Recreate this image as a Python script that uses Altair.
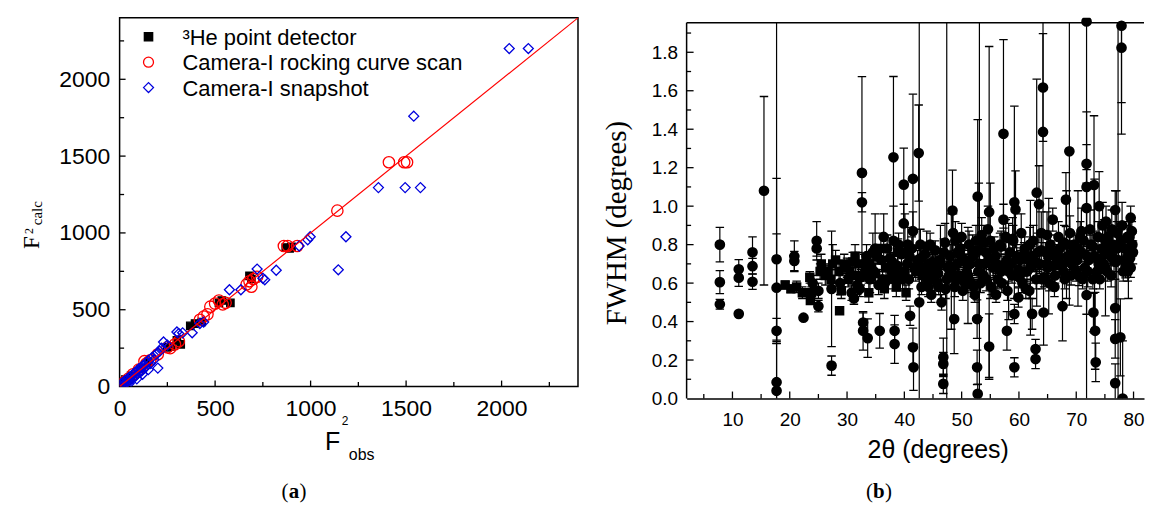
import altair as alt
import pandas as pd

SANS = "Liberation Sans"
SERIF = "Liberation Serif"

# ---------------- panel (a) data ----------------
SERIES = ["\u00b3He point detector", "Camera-I rocking curve scan", "Camera-I snapshot"]
SERIES_SHAPE = ["square", "circle", "diamond"]
SERIES_STROKE = ["#000000", "#ff0000", "#0000dd"]
SERIES_FILL = ["#000000", "transparent", "transparent"]
SERIES_SIZE = [55, 130, 100]

HE_X = [15, 30, 60, 110, 150, 250, 270, 300, 320, 370, 395, 430, 520, 535, 580, 680, 690, 870, 890, 900]
HE_Y = [30, 45, 70, 115, 160, 255, 262, 300, 275, 395, 410, 420, 545, 560, 545, 720, 700, 905, 900, 910]

RC_X = [10, 25, 45, 70, 100, 130, 140, 160, 200, 250, 265, 290, 310, 420, 440, 460, 475, 500, 520, 540,
        555, 665, 680, 700, 720, 690, 860, 880, 930, 1140, 1410, 1490, 1505]
RC_Y = [15, 30, 50, 80, 110, 165, 150, 170, 210, 255, 250, 275, 295, 435, 455, 470, 520, 540, 560, 535,
        545, 665, 685, 700, 715, 650, 915, 915, 915, 1145, 1460, 1460, 1460]

SN_X = [5, 10, 15, 20, 25, 30, 35, 40, 45, 50,
        50, 55, 60, 65, 70, 75, 80, 85, 90, 90,
        95, 100, 105, 110, 115, 120, 120, 125, 130, 135,
        140, 150, 150, 160, 170, 180, 190, 200, 200, 210,
        220, 230, 250, 300, 310, 330, 380, 420, 440, 575,
        635, 720, 750, 760, 820, 940, 985, 998, 1145, 1185,
        1355, 1495, 1575, 1540, 2040, 2140]
SN_Y = [5, 20, 8, 30, 15, 40, 25, 50, 35, 60,
        20, 40, 65, 50, 80, 60, 90, 70, 100, 50,
        85, 115, 95, 120, 100, 135, 80, 115, 140, 125,
        155, 170, 110, 150, 190, 175, 210, 120, 220, 230,
        250, 290, 270, 355, 345, 350, 350, 410, 420, 630,
        630, 765, 705, 695, 757, 915, 955, 975, 760, 975,
        1295, 1295, 1295, 1760, 2200, 2200]

FIT_X = [0, 2400]
FIT_Y = [0, 2400]

L_LABELS = [0, 500, 1000, 1500, 2000]
L_TICK_MAJOR = [500, 1000, 1500, 2000]
L_TICK_MINOR = [250, 750, 1250, 1750, 2250]

# ---------------- panel (b) data ----------------
TH_A = [7.8, 7.8, 7.8, 11.1, 11.1, 11.1, 13.5, 13.5, 13.5, 15.5,
        17.7, 17.7, 17.7, 17.7, 17.7, 19.2, 20.2, 20.8, 20.8, 21.2,
        22.4, 22.2, 23.5, 23.8, 23.6, 24.0, 24.7, 24.7, 25.0, 25.0,
        25.3, 25.5, 26.2, 26.5, 27.3, 27.3, 27.2, 27.5, 28.0, 28.7,
        28.6, 28.8, 29.0, 29.5]
FW_A = [0.80, 0.605, 0.49, 0.672, 0.628, 0.44, 0.76, 0.688, 0.607, 1.08,
        0.724, 0.576, 0.352, 0.085, 0.04, 0.59, 0.57, 0.74, 0.715, 0.58,
        0.42, 0.55, 0.63, 0.55, 0.51, 0.60, 0.78, 0.82, 0.56, 0.48,
        0.66, 0.70, 0.64, 0.66, 0.57, 0.171, 0.62, 0.70, 0.72, 0.456,
        0.66, 0.60, 0.56, 0.70]
ER_A = [0.09, 0.06, 0.025, 0.05, 0.045, 0, 0.08, 0.04, 0.04, 0.49,
        0.42, 0.28, 0.065, 0.2, 2.5, 0.02, 0.02, 0.08, 0.05, 0.03,
        0, 0.03, 0.03, 0.03, 0.02, 0.04, 0.04, 0.1, 0.04, 0.03,
        0.04, 0.05, 0.05, 0.04, 0.3, 0.05, 0.05, 0.1, 0.05, 0,
        0.05, 0.06, 0.04, 0.05]
MK_A = list("cccccccccc" "cccccssccs" "cssssccccc" "ssssccssss" "scss")

TH_B = [30.2, 30.5, 30.8, 31.0, 31.2, 31.5, 31.8, 32.0, 32.2, 32.6,
        32.6, 32.8, 32.8, 33.2, 33.4, 33.6, 33.8, 34.0, 34.5, 34.9,
        35.0, 35.5, 35.7, 36.0, 36.4, 36.8, 37.2, 37.5, 38.1, 38.1,
        38.3, 38.3, 38.6, 38.8, 39.2, 39.5, 39.9, 39.9, 40.3, 40.5,
        40.8, 41.0, 41.3, 41.5, 41.5, 41.5, 41.6, 42.0, 42.3, 42.5,
        42.6, 43.0, 43.3, 43.6, 44.0, 44.3, 44.7]
FW_B = [0.62, 0.66, 0.55, 0.71, 0.52, 0.64, 0.59, 0.70, 0.57, 1.173,
        1.02, 0.395, 0.352, 0.66, 0.74, 0.314, 0.55, 0.62, 0.76, 0.78,
        0.65, 0.59, 0.352, 0.72, 0.84, 0.68, 0.62, 0.73, 1.254, 0.82,
        0.352, 0.283, 0.58, 0.69, 0.64, 0.75, 1.112, 0.91, 0.55, 0.70,
        0.62, 0.43, 0.78, 1.142, 0.87, 0.266, 0.162, 0.66, 0.72, 1.276,
        0.50, 0.58, 0.68, 0.75, 0.62, 0.70, 0.54]
ER_B = [0.04, 0.05, 0.04, 0.05, 0.03, 0.05, 0.05, 0.06, 0.04, 0.5,
        0.05, 0.05, 0.1, 0.05, 0.06, 0.1, 0.05, 0.07, 0.1, 0.18,
        0.05, 0.05, 0.09, 0.06, 0.12, 0.05, 0.05, 0.07, 0.42, 0.18,
        0.08, 0.1, 0.05, 0.06, 0.04, 0.05, 0.19, 0.1, 0.04, 0.06,
        0.05, 0.05, 0.06, 0.44, 0.1, 0.1, 0.12, 0.05, 0.05, 0.25,
        2.5, 0.04, 0.05, 0.05, 0.04, 0.05, 0.04]
MK_B = list("sscscscscc" "ccccccsccc" "sccccscccc" "ccscscccsc" "cccccccscc" "ccscccc")

TH_C = [45.0, 45.4, 45.8, 46.2, 46.5, 46.8, 46.8, 46.8, 47.1, 47.4,
        47.6, 48.0, 48.4, 48.7, 48.8, 49.2, 49.5, 49.8, 50.2, 50.5,
        50.9, 51.3, 51.7, 52.0, 52.3, 52.7, 52.7, 52.8, 52.8, 53.1,
        53.5, 53.8, 54.2, 54.8, 54.8, 55.2, 55.5, 55.9, 56.3, 56.7,
        57.3, 57.3, 57.6, 57.9, 58.0, 58.4, 58.8, 59.2, 59.2, 59.4,
        59.2, 59.9, 60.2, 60.6, 61.0, 61.4, 61.8, 62.2, 62.3, 62.9,
        62.9, 63.1, 63.5, 63.6, 64.0, 64.2, 64.2, 64.3, 64.6, 65.0,
        65.5, 65.9, 66.3, 66.7, 67.1, 67.6, 67.8, 68.2, 68.5, 68.8,
        69.2, 69.6, 70.0, 70.5, 70.9, 71.3, 71.8, 71.8, 71.8, 71.8,
        71.8, 72.2, 72.6, 73.1, 73.0, 73.3, 73.4, 73.6, 74.0, 74.4,
        74.8, 75.2, 75.6, 76.0, 76.4, 76.8, 76.8, 76.8, 76.8, 77.1,
        77.3, 77.9, 77.9, 77.7, 78.1, 78.3, 78.6, 78.9, 79.2, 79.5,
        79.7, 79.8, 79.5]
FW_C = [0.66, 0.77, 0.60, 0.72, 0.50, 0.214, 0.18, 0.076, 0.81, 0.62,
        0.68, 0.74, 0.977, 0.413, 0.58, 0.70, 0.64, 0.78, 0.56, 0.72,
        0.66, 0.80, 0.60, 0.74, 0.54, 0.413, 0.162, 0.024, 1.05, 0.70,
        0.85, 0.64, 0.76, 0.97, 0.27, 0.58, 0.68, 0.74, 0.62, 0.80,
        1.376, 0.93, 0.70, 0.352, 0.56, 0.76, 0.64, 0.162, 1.02, 0.983,
        0.439, 0.525, 0.72, 0.60, 0.78, 0.66, 0.56, 0.74, 0.44, 0.257,
        0.205, 1.07, 1.01, 0.70, 0.62, 1.617, 1.386, 0.447, 0.76, 0.68,
        0.80, 0.93, 0.64, 0.72, 0.78, 0.48, 0.66, 1.034, 0.74, 1.285,
        0.70, 0.80, 0.66, 0.637, 0.76, 0.82, 1.22, 1.10, 0.99, 0.538,
        1.96, 0.72, 0.80, 1.11, 0.447, 0.352, 0.188, 0.66, 1.0, 0.78,
        0.70, 0.92, 0.84, 0.74, 0.80, 0.98, 0.47, 0.31, 0.08, 0.86,
        0.72, 1.938, 1.824, 0.318, 0.0, 0.78, 0.687, 0.84, 0.76, 0.94,
        0.87, 0.80, 0.68]
ER_C = [0.05, 0.05, 0.04, 0.05, 0.04, 0.1, 0.06, 0.05, 0.1, 2.5,
        0.05, 0.06, 0.21, 0.18, 0.05, 0.05, 0.04, 0.06, 0.05, 0.05,
        0.04, 0.07, 0.04, 0.05, 0.04, 0.1, 0.09, 0.05, 0.4, 2.5,
        0.09, 0.05, 0.05, 0.86, 0.17, 0.04, 0.05, 0.05, 0.05, 0.06,
        0.49, 0.08, 0.05, 0.1, 0.05, 0.05, 0.04, 0.05, 0.5, 0.2,
        0.05, 0.05, 0.05, 0.05, 0.06, 0.05, 0.04, 0.05, 0.08, 0.05,
        0.05, 0.59, 0.2, 0.05, 0.05, 0.28, 0.6, 0.17, 0.05, 0.05,
        0.05, 0.06, 0.04, 0.05, 0.05, 0.18, 0.05, 0.14, 0.05, 0.8,
        0.05, 0.06, 0.05, 0.05, 0.05, 0.06, 0.1, 0.39, 0.2, 0.1,
        2.5, 0.05, 0.05, 0.36, 0.1, 0.2, 0.1, 0.05, 0.18, 0.05,
        0.05, 0.08, 0.06, 0.05, 0.05, 0.1, 0.15, 0.1, 0.1, 0.06,
        2.5, 0.4, 0.45, 0.2, 0.3, 0.06, 0.06, 0.06, 0.05, 0.06,
        0.05, 0.06, 0.05]
MK_C = list("s" "cccccccccc" "cccccccccc" "cccccccccc" "cccccccccc" "cccccccccc"
            "cccccccccc" "cccccccccc" "cccccccccc" "cccccccccc" "cccccccccc"
            "cccccccccc" "cccccccccc" "cc")

TH_D = [33.0, 34.2, 35.2, 36.2, 37.0, 37.8, 39.0, 40.0, 40.9, 42.8,
        43.8, 44.5, 45.5, 46.0, 47.8, 48.5, 49.0, 50.0, 50.7, 51.5,
        52.5, 53.3, 54.0, 54.6, 55.7, 56.0, 56.9, 57.7, 58.6, 59.6,
        60.4, 60.9, 61.6, 62.5, 63.0, 63.9, 64.8, 65.3, 66.0, 66.9,
        67.4, 68.0, 68.9, 69.4, 70.2, 70.7, 71.5, 72.4, 72.9, 73.8,
        74.2, 74.6, 75.0, 75.4, 75.8, 76.2, 76.6, 77.4, 78.0, 78.4,
        79.0, 79.3, 79.9]
FW_D = [0.70, 0.68, 0.74, 0.62, 0.78, 0.66, 0.80, 0.66, 0.74, 0.80,
        0.66, 0.80, 0.69, 0.58, 0.64, 0.86, 0.62, 0.84, 0.59, 0.70,
        0.82, 0.60, 0.70, 0.88, 0.78, 0.54, 0.66, 0.84, 0.70, 0.74,
        0.86, 0.66, 0.72, 0.82, 0.62, 0.86, 0.70, 0.60, 0.76, 0.84,
        0.70, 0.62, 0.86, 0.76, 0.72, 0.84, 0.68, 0.88, 0.62, 0.84,
        0.72, 0.90, 0.76, 0.66, 0.80, 0.88, 0.72, 0.80, 0.90, 0.72,
        0.66, 0.84, 0.76]
ER_D = [0.05, 0.06, 0.04, 0.05, 0.07, 0.05, 0.06, 0.04, 0.05, 0.08,
        0.05, 0.06, 0.05, 0.04, 0.05, 0.10, 0.05, 0.07, 0.04, 0.05,
        0.08, 0.05, 0.06, 0.12, 0.06, 0.04, 0.05, 0.09, 0.05, 0.06,
        0.10, 0.05, 0.06, 0.08, 0.05, 0.11, 0.05, 0.04, 0.06, 0.08,
        0.05, 0.05, 0.09, 0.06, 0.05, 0.08, 0.05, 0.10, 0.05, 0.08,
        0.06, 0.12, 0.06, 0.05, 0.07, 0.10, 0.06, 0.07, 0.12, 0.06,
        0.05, 0.08, 0.06]
MK_D = list("c" * 63)

TH_E = [30.0, 31.4, 32.4, 33.9, 34.7, 35.9, 36.6, 37.9, 38.9, 39.7,
        40.6, 41.8, 42.9, 43.9, 44.9, 45.9, 46.9, 47.9, 48.9, 49.9,
        50.9, 51.9, 52.9, 53.9, 54.9, 55.9, 56.9, 57.9, 58.9, 59.9,
        60.9, 61.9, 62.9, 63.9, 64.9, 65.9, 66.9, 67.9, 68.9, 69.9,
        70.9, 71.9, 72.9, 73.9, 74.9, 75.9, 76.9, 77.9, 78.9, 79.4]
FW_E = [0.68, 0.74, 0.63, 0.70, 0.66, 0.78, 0.60, 0.71, 0.76, 0.62,
        0.80, 0.68, 0.73, 0.79, 0.71, 0.65, 0.76, 0.69, 0.82, 0.74,
        0.70, 0.77, 0.66, 0.81, 0.73, 0.69, 0.79, 0.72, 0.83, 0.67,
        0.75, 0.80, 0.71, 0.77, 0.85, 0.69, 0.74, 0.81, 0.72, 0.78,
        0.87, 0.74, 0.79, 0.70, 0.83, 0.76, 0.71, 0.82, 0.78, 0.73]
ER_E = [0.05, 0.06, 0.04, 0.05, 0.06, 0.08, 0.04, 0.05, 0.07, 0.05,
        0.09, 0.05, 0.06, 0.08, 0.05, 0.04, 0.07, 0.05, 0.10, 0.06,
        0.05, 0.08, 0.04, 0.09, 0.06, 0.05, 0.08, 0.05, 0.11, 0.04,
        0.06, 0.09, 0.05, 0.07, 0.12, 0.05, 0.06, 0.09, 0.05, 0.07,
        0.12, 0.06, 0.08, 0.05, 0.10, 0.06, 0.05, 0.09, 0.07, 0.06]
MK_E = list("sscscsccsc" "cscccccccc" "cccccccccc" "cccccccccc" "cccccccccc")

TH_F = [44.2, 45.2, 46.3, 47.2, 48.2, 49.3, 50.3, 51.1, 52.1, 53.0,
        54.3, 55.0, 56.1, 57.0, 58.2, 59.0, 60.0, 61.2, 62.0, 63.3,
        64.4, 65.2, 66.2, 67.3, 68.3, 69.1, 70.3, 71.1, 72.0, 73.2,
        74.1, 75.1, 76.1, 77.0, 78.2, 79.1, 36.5, 38.5, 40.1, 43.1]
FW_F = [0.58, 0.62, 0.70, 0.57, 0.66, 0.76, 0.61, 0.64, 0.58, 0.77,
        0.62, 0.82, 0.70, 0.60, 0.66, 0.82, 0.63, 0.57, 0.68, 0.76,
        0.63, 0.74, 0.58, 0.69, 0.80, 0.64, 0.78, 0.62, 0.66, 0.74,
        0.62, 0.68, 0.64, 0.78, 0.66, 0.72, 0.57, 0.62, 0.76, 0.64]
ER_F = [0.05, 0.06, 0.20, 0.05, 0.30, 0.10, 0.05, 0.25, 0.05, 0.35,
        0.06, 0.30, 0.05, 0.05, 0.25, 0.08, 0.05, 0.05, 0.35, 0.10,
        0.05, 0.30, 0.05, 0.06, 0.28, 0.05, 0.30, 0.05, 0.08, 0.40,
        0.05, 0.25, 0.06, 0.30, 0.05, 0.20, 0.05, 0.06, 0.20, 0.05]
MK_F = list("cccccccccc" "cccccccccc" "cccccccccc" "cccccc" "sscs")

R_XLABELS = [10, 20, 30, 40, 50, 60, 70, 80]
R_XTICK_MINOR = [5, 15, 25, 35, 45, 55, 65, 75]
R_YLABELS = [0.0, 0.2, 0.4, 0.6, 0.8, 1.0, 1.2, 1.4, 1.6, 1.8]
R_YTICK_MINOR = [0.1, 0.3, 0.5, 0.7, 0.9, 1.1, 1.3, 1.5, 1.7, 1.9]

# ---------------- layout constants ----------------
LW, LH = 460, 370
RW, RH = 459, 382
R_TOP = 1.953      # top frame line of panel (b)
R_YMAX = 1.979     # y value at the top of the drawing area of panel (b)

# ---------------- helpers ----------------
def text_layer(text, x, y, size, font=SANS, angle=0, align="left", baseline="alphabetic", weight="normal"):
    return alt.Chart(alt.Data(values=[{}])).mark_text(
        text=text, font=font, fontSize=size, angle=angle, align=align,
        baseline=baseline, fontWeight=weight, color="black"
    ).encode(x=alt.value(x), y=alt.value(y))


tick_style = dict(color="black", strokeWidth=1.3)

# ---------------- panel (a) ----------------
xs_l = alt.Scale(domain=[0, 2400], nice=False, zero=False)
ys_l = alt.Scale(domain=[0, 2400], nice=False, zero=False)
ax_lx = alt.Axis(values=L_LABELS, format="d", ticks=False, domain=False, grid=False, title=None,
                 labelFont=SANS, labelFontSize=23, labelColor="black", labelPadding=11,
                 labelFlush=False, labelOverlap=False)
ax_ly = alt.Axis(values=L_LABELS, format="d", ticks=False, domain=False, grid=False, title=None,
                 labelFont=SANS, labelFontSize=23, labelColor="black", labelPadding=10,
                 labelFlush=False, labelOverlap=False)


def LX(f):
    return alt.X(f, type="quantitative", scale=xs_l, axis=ax_lx)


def LY(f):
    return alt.Y(f, type="quantitative", scale=ys_l, axis=ax_ly)


def series_layer(xs, ys, k):
    df = pd.DataFrame({"obs": xs, "calc": ys})
    return alt.Chart(df).mark_point(
        shape=SERIES_SHAPE[k], color=SERIES_STROKE[k], fill=SERIES_FILL[k], size=SERIES_SIZE[k],
        filled=False, strokeWidth=1.3, opacity=1, fillOpacity=1, clip=True
    ).encode(x=LX("obs"), y=LY("calc"))


pts_l = [series_layer(HE_X, HE_Y, 0), series_layer(RC_X, RC_Y, 1), series_layer(SN_X, SN_Y, 2)]

fit_l = alt.Chart(pd.DataFrame({"obs": FIT_X, "calc": FIT_Y})).mark_line(
    color="#ff0000", strokeWidth=1.2, clip=True).encode(x=LX("obs"), y=LY("calc"))

# legend (drawn as marks inside the plot, upper left)
LEG_X, LEG_Y0, LEG_DY, LEG_TX = 29, 19, 25.5, 63
legend_l = []
for k, lab in enumerate(SERIES):
    legend_l.append(
        alt.Chart(alt.Data(values=[{}])).mark_point(
            shape=SERIES_SHAPE[k], color=SERIES_STROKE[k], fill=SERIES_FILL[k],
            size=[70, 100, 100][k], filled=False, strokeWidth=1.3, opacity=1, fillOpacity=1
        ).encode(x=alt.value(LEG_X), y=alt.value(LEG_Y0 + k * LEG_DY))
    )
    legend_l.append(text_layer(lab, LEG_TX, LEG_Y0 + k * LEG_DY + 1, 22, baseline="middle"))

lt_major = pd.DataFrame({"v": L_TICK_MAJOR})
lt_minor = pd.DataFrame({"v": L_TICK_MINOR})
l_ticks = [
    alt.Chart(lt_major).mark_rule(**tick_style).encode(x=LX("v"), y=alt.value(LH), y2=alt.value(LH - 6)),
    alt.Chart(lt_minor).mark_rule(**tick_style).encode(x=LX("v"), y=alt.value(LH), y2=alt.value(LH - 4.5)),
    alt.Chart(lt_major).mark_rule(**tick_style).encode(y=LY("v"), x=alt.value(0), x2=alt.value(6)),
    alt.Chart(lt_minor).mark_rule(**tick_style).encode(y=LY("v"), x=alt.value(0), x2=alt.value(4.5)),
]

l_texts = [
    text_layer("F", -87.5, 225.5, 23, font=SERIF, angle=270, align="center", baseline="middle"),
    text_layer("2", -91, 214, 12, font=SERIF, angle=270, align="center", baseline="middle"),
    text_layer("calc", -83, 196, 15, font=SERIF, angle=270, align="center", baseline="middle"),
    text_layer("F", 206, 434, 25),
    text_layer("2", 223, 409, 12),
    text_layer("obs", 230, 444, 16),
    text_layer("(", 175 - 5.5, 482, 21, font=SERIF, align="right"),
    text_layer("a", 175, 482, 21, font=SERIF, align="center", weight="bold"),
    text_layer(")", 175 + 5.5, 482, 21, font=SERIF, align="left"),
]

left = alt.layer(*pts_l, fit_l, *l_ticks, *legend_l, *l_texts).properties(
    width=LW, height=LH, view=alt.ViewBackground(stroke="black", strokeWidth=1.5))

# ---------------- panel (b) ----------------
right_df = pd.DataFrame({
    "th": TH_A + TH_B + TH_C + TH_D + TH_E + TH_F,
    "fw": FW_A + FW_B + FW_C + FW_D + FW_E + FW_F,
    "err": ER_A + ER_B + ER_C + ER_D + ER_E + ER_F,
    "mk": MK_A + MK_B + MK_C + MK_D + MK_E + MK_F,
})

xs_r = alt.Scale(domain=[2, 2 + RW / 5.75], nice=False, zero=False)
ys_r = alt.Scale(domain=[0, R_YMAX], nice=False, zero=False)
ax_rx = alt.Axis(values=R_XLABELS, ticks=False, domain=True, domainColor="black", domainWidth=1.5,
                 grid=False, title=None, labelFont=SANS, labelFontSize=19, labelColor="black",
                 labelPadding=12, labelFlush=False, labelOverlap=False)
ax_ry = alt.Axis(values=R_YLABELS, format=".1f", ticks=False, domain=False, grid=False, title=None,
                 labelFont=SANS, labelFontSize=19, labelColor="black", labelPadding=9,
                 labelFlush=False, labelOverlap=False)


def RX(f):
    return alt.X(f, type="quantitative", scale=xs_r, axis=ax_rx)


def RY(f):
    return alt.Y(f, type="quantitative", scale=ys_r, axis=ax_ry)


base_r = alt.Chart(right_df).transform_calculate(
    raw_lo="datum.fw - datum.err",
    raw_hi="datum.fw + datum.err",
).transform_calculate(
    lo="max(datum.raw_lo, 0)",
    hi=f"min(datum.raw_hi, {R_TOP})",
)

bars = base_r.transform_filter("datum.err > 0").mark_rule(color="black", strokeWidth=1.2, clip=True).encode(
    x=RX("th"), y=RY("lo"), y2="hi")
cap_style = dict(shape="M-1,0L1,0", size=72, strokeWidth=1.3, color="black", filled=False, opacity=1, clip=True)
cap_hi = base_r.transform_filter(f"datum.err > 0 && datum.raw_hi <= {R_TOP}").mark_point(
    **cap_style).encode(x=RX("th"), y=RY("raw_hi"))
cap_lo = base_r.transform_filter("datum.err > 0 && datum.raw_lo >= 0").mark_point(
    **cap_style).encode(x=RX("th"), y=RY("raw_lo"))
dots_c = base_r.transform_filter("datum.mk == 'c'").mark_point(
    shape="circle", size=115, filled=True, color="black", opacity=1, clip=True).encode(x=RX("th"), y=RY("fw"))
dots_s = base_r.transform_filter("datum.mk == 's'").mark_point(
    shape="square", size=90, filled=True, color="black", opacity=1, clip=True).encode(x=RX("th"), y=RY("fw"))

frame_df = pd.DataFrame({"lo": [0.0], "hi": [R_TOP]})
frame_r = [
    alt.Chart(frame_df).mark_rule(color="black", strokeWidth=1.5).encode(x=alt.value(0), y=RY("lo"), y2="hi"),
    alt.Chart(frame_df).mark_rule(color="black", strokeWidth=1.5).encode(y=RY("hi"), x=alt.value(0), x2=alt.value(RW)),
]

rxt_major = pd.DataFrame({"v": R_XLABELS})
rxt_minor = pd.DataFrame({"v": R_XTICK_MINOR})
ryt_major = pd.DataFrame({"v": R_YLABELS[1:]})
ryt_minor = pd.DataFrame({"v": R_YTICK_MINOR})
r_ticks = [
    alt.Chart(rxt_major).mark_rule(**tick_style).encode(x=RX("v"), y=alt.value(RH), y2=alt.value(RH - 7)),
    alt.Chart(rxt_minor).mark_rule(**tick_style).encode(x=RX("v"), y=alt.value(RH), y2=alt.value(RH - 4.5)),
    alt.Chart(ryt_major).mark_rule(**tick_style).encode(y=RY("v"), x=alt.value(0), x2=alt.value(7)),
    alt.Chart(ryt_minor).mark_rule(**tick_style).encode(y=RY("v"), x=alt.value(0), x2=alt.value(4.5)),
]

r_texts = [
    text_layer("FWHM (degrees)", -70, 206, 29, font=SERIF, angle=270, align="center", baseline="middle"),
    text_layer("2\u03b8 (degrees)", 252.5, 442, 25, align="center"),
    text_layer("(", 193 - 6, 482, 21, font=SERIF, align="right"),
    text_layer("b", 193, 482, 21, font=SERIF, align="center", weight="bold"),
    text_layer(")", 193 + 6, 482, 21, font=SERIF, align="left"),
]

right = alt.layer(bars, cap_hi, cap_lo, dots_s, dots_c, *frame_r, *r_ticks, *r_texts).properties(
    width=RW, height=RH)

chart = alt.hconcat(left, right, spacing=24).properties(
    padding={"left": 12, "top": 8, "right": 0, "bottom": 4},
    background="white",
).configure_view(strokeWidth=0)

chart.save("out.html", embed_options={"renderer": "svg", "actions": False})
